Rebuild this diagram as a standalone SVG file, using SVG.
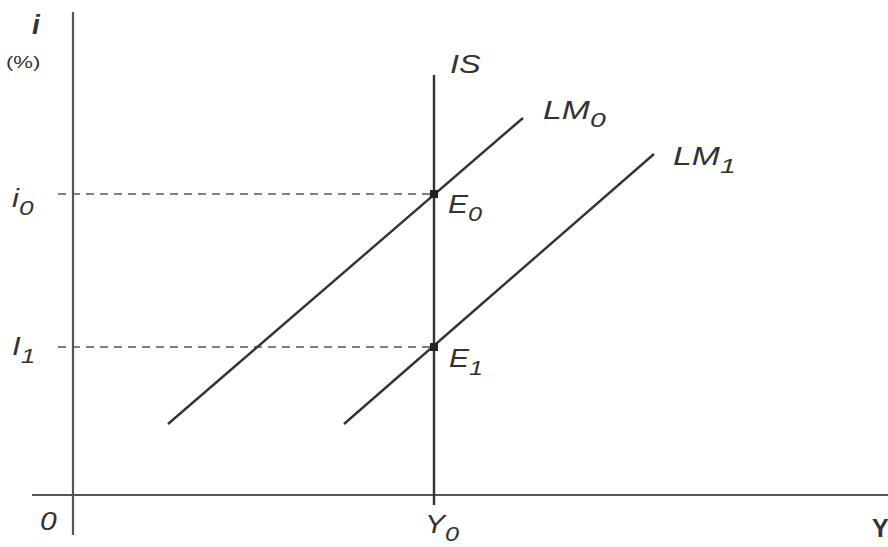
<svg xmlns="http://www.w3.org/2000/svg" width="888" height="547" viewBox="0 0 888 547">
<style>
.ax{stroke:#555;stroke-width:2.2;fill:none}
.ln{stroke:#333;stroke-width:2.4;fill:none;stroke-linecap:butt}
.da{stroke:#555;stroke-width:1.3;stroke-dasharray:8 6;fill:none}
text{font-family:"Liberation Sans",Arial,sans-serif;font-style:italic;fill:#333}
.lb{font-size:25px}
.sb{font-size:21px}
</style>
<rect width="888" height="547" fill="#fff"/>
<g id="connectors">
<line class="ax" x1="73" y1="12" x2="73" y2="535"/>
<line class="ax" x1="32" y1="495" x2="888" y2="495"/>
<line class="da" x1="58" y1="194" x2="434" y2="194"/>
<line class="da" x1="58" y1="347" x2="434" y2="347"/>
</g>
<g id="IS"><line class="ln" x1="434" y1="75" x2="434" y2="505"/><text class="lb" transform="translate(450 73) scale(1.3 1)">IS</text></g>
<g id="LM0"><line class="ln" x1="168" y1="424" x2="523" y2="118"/><text class="lb" transform="translate(543 119) scale(1.35 1)">LM<tspan class="sb" dy="8">0</tspan></text></g>
<g id="LM1"><line class="ln" x1="344" y1="424" x2="654" y2="154"/><text class="lb" transform="translate(673 165) scale(1.35 1)">LM<tspan class="sb" dy="8">1</tspan></text></g>
<g id="E0"><rect x="430" y="190" width="8" height="8" fill="#222"/><text class="lb" transform="translate(448 213) scale(1.2 1)">E<tspan class="sb" dy="8">0</tspan></text></g>
<g id="E1"><rect x="430" y="343" width="8" height="8" fill="#222"/><text class="lb" transform="translate(449 367) scale(1.2 1)">E<tspan class="sb" dy="8">1</tspan></text></g>
<g id="labels">
<text x="32" y="34" style="font-size:28px;font-weight:bold">i</text>
<text transform="translate(6 68) scale(1.3 1)" style="font-size:17px;font-style:normal">(%)</text>
<text class="lb" transform="translate(12 207) scale(1.25 1)">i<tspan class="sb" dy="8">0</tspan></text>
<text class="lb" transform="translate(12 355) scale(1.25 1)">I<tspan class="sb" dy="8">1</tspan></text>
<text class="lb" transform="translate(40 530) scale(1.2 1)">0</text>
<text class="lb" transform="translate(425 533) scale(1.2 1)">Y<tspan class="sb" dy="8">0</tspan></text>
<text x="872" y="537" style="font-size:25px;font-weight:bold;font-style:normal">Y</text>
</g>
</svg>
